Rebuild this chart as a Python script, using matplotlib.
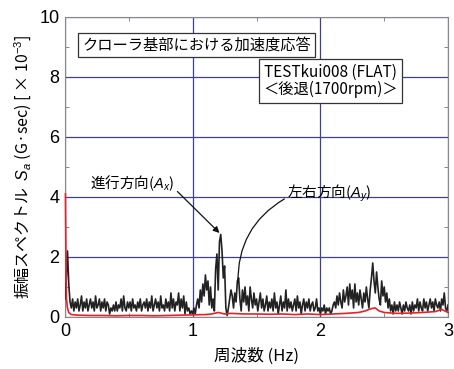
import numpy as np
import matplotlib
matplotlib.use("Agg")
import matplotlib.pyplot as plt
from matplotlib.ticker import MultipleLocator

plt.rcParams['font.family'] = ['Liberation Sans', 'Noto Sans CJK JP', 'DejaVu Sans']
plt.rcParams['mathtext.fontset'] = 'custom'
plt.rcParams['mathtext.it'] = 'Liberation Sans:italic'
plt.rcParams['mathtext.rm'] = 'Liberation Sans'

# Frequency (Hz) for the fore-aft series, 0.01 Hz step
black_freq = [round(i * 0.01, 2) for i in range(301)]
black_vals = [
    0.6, 1.2, 2.2, 1.1, 0.5, 0.3, 0.6, 0.2, 0.5, 0.3,
    0.6, 0.2, 0.4, 0.7, 0.2, 0.5, 0.3, 0.6, 0.2, 0.4,
    0.6, 0.3, 0.5, 0.2, 0.7, 0.3, 0.4, 0.6, 0.2, 0.5,
    0.3, 0.6, 0.2, 0.5, 0.4, 0.1, 0.3, 0.2, 0.4, 0.2,
    0.5, 0.2, 0.4, 0.3, 0.6, 0.2, 0.7, 0.3, 0.2, 0.5,
    0.3, 0.5, 0.2, 0.6, 0.3, 0.4, 0.2, 0.5, 0.3, 0.6,
    0.2, 0.4, 0.5, 0.3, 0.6, 0.2, 0.5, 0.3, 0.7, 0.2,
    0.4, 0.6, 0.3, 0.5, 0.2, 0.7, 0.3, 0.4, 0.2, 0.6,
    0.3, 0.5, 0.2, 0.8, 0.3, 0.6, 0.2, 0.5, 0.4, 0.8,
    0.2, 0.6, 0.3, 0.7, 0.1, 0.5, 0.2, 0.3, 0.1, 0.2,
    0.1, 0.3, 0.1, 0.4, 0.6, 0.3, 0.9, 0.5, 1.1, 0.7,
    1.4, 0.9, 1.2, 0.4, 1.0, 0.3, 0.6, 0.2, 1.6, 2.1,
    0.9, 2.5, 2.75, 2.2, 1.3, 1.7, 0.3, 0.05, 0.3, 0.6,
    0.9, 0.7, 0.3, 0.8, 0.5, 1.2, 1.3, 0.6, 0.2, 0.9,
    0.5, 1.0, 0.4, 0.7, 0.2, 1.0, 0.6, 0.3, 0.8, 0.4,
    0.6, 0.2, 0.5, 0.8, 0.3, 0.6, 0.2, 0.4, 0.7, 0.2,
    0.5, 0.3, 0.6, 0.2, 0.8, 0.3, 0.5, 0.1, 0.4, 0.7,
    0.2, 0.5, 0.3, 0.9, 0.2, 0.6, 0.3, 0.5, 0.2, 0.4,
    0.6, 0.2, 0.7, 0.3, 0.5, 0.1, 0.4, 0.6, 0.2, 0.5,
    0.3, 0.6, 0.2, 0.4, 0.5, 0.2, 0.3, 0.6, 0.2, 0.3,
    0.1, 0.3, 0.2, 0.4, 0.1, 0.3, 0.2, 0.3, 0.1, 0.2,
    0.4, 0.5, 0.3, 0.7, 0.4, 0.8, 0.5, 0.3, 0.9, 0.5,
    0.7, 1.0, 0.4, 1.1, 0.6, 0.9, 0.3, 1.1, 0.5, 0.8,
    0.4, 0.9, 0.6, 0.3, 0.8, 0.5, 1.0, 0.6, 0.3, 0.9,
    1.3, 1.8, 1.2, 0.8, 1.5, 1.0, 0.6, 0.4, 1.2, 0.7,
    1.0, 0.5, 0.8, 0.3, 0.6, 0.2, 0.4, 0.1, 0.5, 0.2,
    0.4, 0.2, 0.5, 0.3, 0.1, 0.4, 0.2, 0.5, 0.3, 0.2,
    0.4, 0.1, 0.5, 0.2, 0.4, 0.3, 0.6, 0.2, 0.5, 0.3,
    0.2, 0.6, 0.3, 0.5, 0.2, 0.4, 0.6, 0.3, 0.5, 0.2,
    0.6, 0.4, 0.3, 0.5, 0.2, 0.6, 0.4, 0.8, 0.3, 0.2,
    0.4,
]

# Lateral series
red_freq = [0.004, 0.008, 0.012, 0.02, 0.03, 0.05, 0.1, 0.2, 0.3, 0.4, 0.5, 0.6,
            0.7, 0.8, 0.9, 1.0, 1.1, 1.15, 1.2, 1.25, 1.3, 1.4, 1.5, 1.6,
            1.7, 1.8, 1.9, 2.0, 2.1, 2.2, 2.3, 2.35, 2.4, 2.43, 2.46, 2.5,
            2.6, 2.7, 2.8, 2.9, 2.95, 3.0]
red_vals = [4.1, 2.0, 0.6, 0.3, 0.15, 0.08, 0.06, 0.05, 0.05, 0.04, 0.05, 0.05,
            0.04, 0.05, 0.06, 0.07, 0.08, 0.1, 0.15, 0.1, 0.12, 0.1, 0.1, 0.09,
            0.1, 0.08, 0.1, 0.08, 0.1, 0.12, 0.15, 0.2, 0.28, 0.3, 0.2, 0.15,
            0.12, 0.13, 0.15, 0.18, 0.25, 0.15]

xticks = [0, 1, 2, 3]
yticks = [0, 2, 4, 6, 8, 10]

fig = plt.figure(figsize=(4.54, 3.69), dpi=100)
ax = fig.add_axes([0.143, 0.141, 0.844, 0.813])

grid_c = '#40408f'
ax.set_xlim(0, 3)
ax.set_ylim(0, 10)
ax.set_xticks(xticks)
ax.set_yticks(yticks)
ax.yaxis.set_minor_locator(MultipleLocator(1))
ax.xaxis.set_minor_locator(MultipleLocator(0.5))
ax.grid(True, which='major', color=grid_c, linewidth=0.9)
ax.set_axisbelow(True)
ax.tick_params(which='both', direction='in', top=True, right=True,
               labelsize=13, color='#777777', pad=4)
ax.tick_params(which='major', length=0)
ax.tick_params(which='minor', length=3)
for s in ax.spines.values():
    s.set_color('#888888')
    s.set_linewidth(0.8)

ax.plot(black_freq, black_vals, color='#222222', linewidth=1.2, zorder=3)
ax.plot(red_freq, red_vals, color='#e8202a', linewidth=1.2, zorder=4,
        clip_on=False)

cjk = ['Noto Sans CJK JP', 'DejaVu Sans']
ax.set_xlabel('周波数 (Hz)', fontsize=12, family=cjk, labelpad=6)
ax.set_ylabel('振幅スペクトル  $S_a$ (G·sec) [ × 10$^{-3}$]', fontsize=11.5,
              family=cjk, labelpad=4)

ax.text(1.03, 9.07, 'クローラ基部における加速度応答', fontsize=11, family=cjk,
        ha='center', va='center', zorder=6,
        bbox=dict(boxstyle='square,pad=0.25', fc='white', ec='#333333', lw=0.9))
ax.text(2.08, 7.87, 'TESTkui008 (FLAT)\n＜後退(1700rpm)＞', fontsize=11,
        family=cjk, ha='center', va='center', linespacing=1.0, zorder=6,
        bbox=dict(boxstyle='square,pad=0.3', fc='white', ec='#333333', lw=0.9))

ax.annotate('進行方向($A_x$)', xy=(1.21, 2.8), xytext=(0.2, 4.47),
            fontsize=10.5, family=cjk, va='center', ha='left', zorder=6,
            arrowprops=dict(arrowstyle='-|>', color='#111111', lw=0.9,
                            shrinkA=0, shrinkB=0, mutation_scale=9,
                            relpos=(1.0, 0.2)))
ax.annotate('左右方向($A_y$)', xy=(1.355, 1.13), xytext=(1.74, 4.13),
            fontsize=10.5, family=cjk, va='center', ha='left', zorder=6,
            arrowprops=dict(arrowstyle='-', color='#111111', lw=0.9,
                            shrinkA=0, shrinkB=0, relpos=(0.0, 0.3),
                            connectionstyle='arc3,rad=0.3'))

fig.savefig('out.png', dpi=100)
